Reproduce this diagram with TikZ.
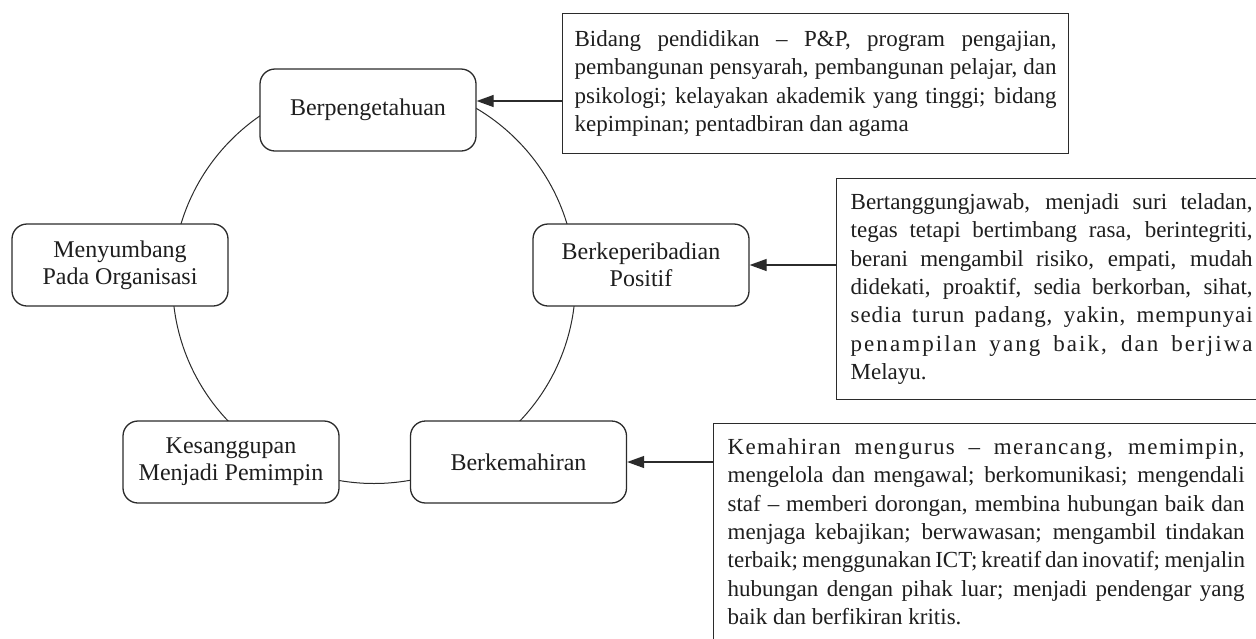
\documentclass[tikz,border=0pt]{standalone}
\usepackage{fontspec}
\setmainfont{Liberation Serif}
\usetikzlibrary{arrows.meta}
\definecolor{ln}{HTML}{2B2B2B}
\definecolor{tx}{HTML}{1E1E1E}
\newcommand\jl[1]{\hbox to\hsize{#1}}
\newcommand\jls[2]{\hbox to\hsize{\addfontfeature{LetterSpace=#1}#2}}
\begin{document}
\begin{tikzpicture}[x=1pt,y=-1pt,
  stage/.style={draw=ln, line width=1.3pt, rounded corners=15pt, fill=white,
    minimum width=216pt, minimum height=82pt, align=center, inner sep=0pt,
    font=\fontsize{24}{26.7}\selectfont, text=tx},
  info/.style={draw=ln, line width=1.3pt, fill=white, anchor=north west,
    inner xsep=14pt, inner ysep=15pt,
    font=\fontsize{23}{28.3}\selectfont, text=tx},
  link/.style={draw=ln, line width=1.3pt, -{Triangle[length=17pt,width=12pt]}},
  ring/.style={draw=ln, line width=1pt}]
\useasboundingbox (0,0) rectangle (1256,638);
\clip (0,0) rectangle (1256,638);

% ring behind the stages
\coordinate (ctr) at (374,282);
\draw[ring] (ctr) circle [radius=201.5pt];

% stages
\node[stage] (B1) at (368,110) {Berpengetahuan};
\node[stage] (B2) at (641,265) {Berkeperibadian\\Positif};
\node[stage] (B3) at (518.5,462) {Berkemahiran};
\node[stage] (B4) at (231,462) {Kesanggupan\\Menjadi Pemimpin};
\node[stage] (B5) at (120,265) {Menyumbang\\Pada Organisasi};

% descriptions
\node[info, inner xsep=12pt, inner ysep=17pt] (T1) at (562,13)
 {\vbox{\hsize=482pt
 \jl{Bidang pendidikan – P\&P, program pengajian,}
 \jl{pembangunan pensyarah, pembangunan pelajar, dan}
 \jl{psikologi; kelayakan akademik yang tinggi; bidang}
 \hbox{kepimpinan; pentadbiran dan agama}}};

\node[info] (T2) at (836,178)
 {\vbox{\hsize=402pt
 \jl{Bertanggungjawab, menjadi suri teladan,}
 \jl{tegas tetapi bertimbang rasa, berintegriti,}
 \jl{berani mengambil risiko, empati, mudah}
 \jl{didekati, proaktif, sedia berkorban, sihat,}
 \jls{4}{sedia turun padang, yakin, mempunyai}
 \jls{9}{penampilan yang baik, dan berjiwa}
 \hbox{Melayu.}}};

\node[info] (T3) at (713,423)
 {\vbox{\hsize=517pt
 \jls{6}{Kemahiran mengurus – merancang, memimpin,}
 \jl{mengelola dan mengawal; berkomunikasi; mengendali}
 \jl{staf – memberi dorongan, membina hubungan baik dan}
 \jl{menjaga kebajikan; berwawasan; mengambil tindakan}
 \jl{terbaik; menggunakan ICT; kreatif dan inovatif; menjalin}
 \jl{hubungan dengan pihak luar; menjadi pendengar yang}
 \hbox{baik dan berfikiran kritis.}}};

% arrows
\coordinate (a1) at (0,101);
\draw[link] (T1.west |- a1) -- (B1.east |- a1);
\draw[link] (T2.west |- B2.east) -- (B2.east);
\draw[link] (T3.west |- B3.east) -- (B3.east);
\end{tikzpicture}
\end{document}
